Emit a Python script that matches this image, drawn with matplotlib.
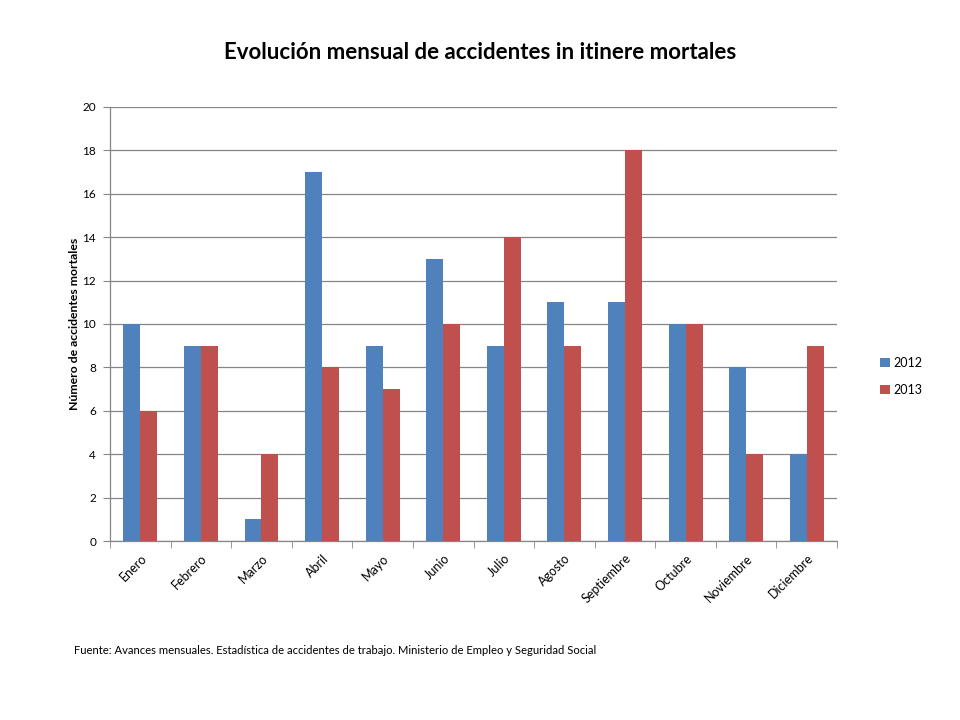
import numpy as np
import matplotlib
matplotlib.use('Agg')
import matplotlib.pyplot as plt

plt.rcParams['font.family'] = ['Lato', 'DejaVu Sans']

meses = ['Enero', 'Febrero', 'Marzo', 'Abril', 'Mayo', 'Junio', 'Julio',
         'Agosto', 'Septiembre', 'Octubre', 'Noviembre', 'Diciembre']
valores_2012 = [10, 9, 1, 17, 9, 13, 9, 11, 11, 10, 8, 4]
valores_2013 = [6, 9, 4, 8, 7, 10, 14, 9, 18, 10, 4, 9]
yticks = list(range(0, 21, 2))

fig = plt.figure(figsize=(9.6, 7.2), dpi=100)
ax = fig.add_axes([0.1146, 0.2486, 0.7573, 0.6028])

x = np.arange(len(meses))
w = 0.28
ax.bar(x - w / 2, valores_2012, w, color='#4F81BD', label='2012', zorder=3)
ax.bar(x + w / 2, valores_2013, w, color='#C0504D', label='2013', zorder=3)

ax.set_xlim(-0.5, len(meses) - 0.5)
ax.set_ylim(0, 20)
ax.set_yticks(yticks)
ax.set_yticklabels([str(v) for v in yticks], fontsize=8.5)
ax.yaxis.grid(True, color='#868686', linewidth=0.9, zorder=0)

ax.set_xticks(x)
ax.set_xticklabels(meses, rotation=45, ha='right', rotation_mode='anchor', fontsize=9)
ax.tick_params(axis='x', length=0, pad=8)
ax.set_xticks(np.arange(-0.5, len(meses)), minor=True)
ax.tick_params(axis='x', which='minor', length=5, color='#868686', direction='out')
ax.tick_params(axis='y', length=5, color='#868686', direction='out', pad=5)

for s in ['top', 'right']:
    ax.spines[s].set_visible(False)
for s in ['left', 'bottom']:
    ax.spines[s].set_color('#868686')
    ax.spines[s].set_linewidth(0.9)

ax.set_ylabel('Número de accidentes mortales', fontsize=8.8, fontweight='bold', labelpad=2)

fig.text(0.5, 0.927, 'Evolución mensual de accidentes in itinere mortales',
         ha='center', va='center', fontsize=16, fontweight='bold')

fig.legend(loc='center left', bbox_to_anchor=(0.905, 0.477), frameon=False,
           fontsize=9, handlelength=0.8, handleheight=0.8, handletextpad=0.3,
           labelspacing=1.2)

fig.text(0.077, 0.096, 'Fuente: Avances mensuales. Estadística de accidentes de trabajo. '
         'Ministerio de Empleo y Seguridad Social', fontsize=8.1, va='center')

fig.savefig('out.png', dpi=100)
